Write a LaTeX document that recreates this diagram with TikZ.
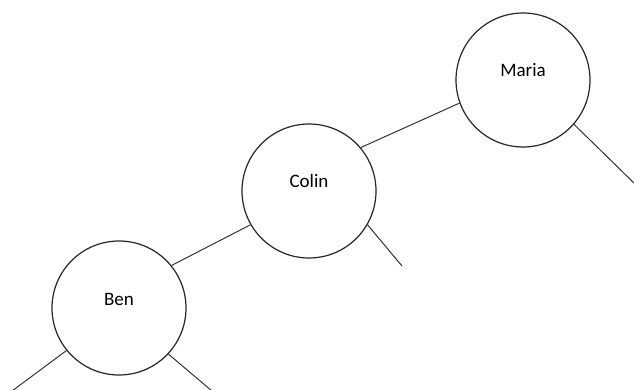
\documentclass[tikz,border=0pt]{standalone}
\usepackage{fontspec}
\setmainfont{Carlito}
\usepackage{tikz}

\begin{document}
\begin{tikzpicture}[x=1pt,y=-1pt,thin,
                    person/.style={circle,draw=black!85,line width=1.2pt,minimum size=134pt,
                                   text height=13pt,text depth=19pt,font=\fontsize{19}{22}\selectfont},
                    branch/.style={draw=black!80,line width=1pt}]
  \useasboundingbox (0,0) rectangle (634,390);
  \node (Maria) [person] at (523,80) {Maria};
  \node (Colin) [person] at (309,191) {Colin};
  \node (Ben) [person] at (119,308) {Ben};

  \coordinate (MariaRight) at (636,185);
  \coordinate (ColinRight) at (402,266);
  \coordinate (BenLeft) at (12,391);
  \coordinate (BenRight) at (212,391);

  \path[branch]
    (Colin.40) edge (Maria.200)
    (Ben.39) edge (Colin.210)
    (Maria.-41) edge (MariaRight)
    (Colin.-30) edge (ColinRight)
    (Ben.219) edge (BenLeft)
    (Ben.-43) edge (BenRight)
    ;
\end{tikzpicture}
\end{document}
